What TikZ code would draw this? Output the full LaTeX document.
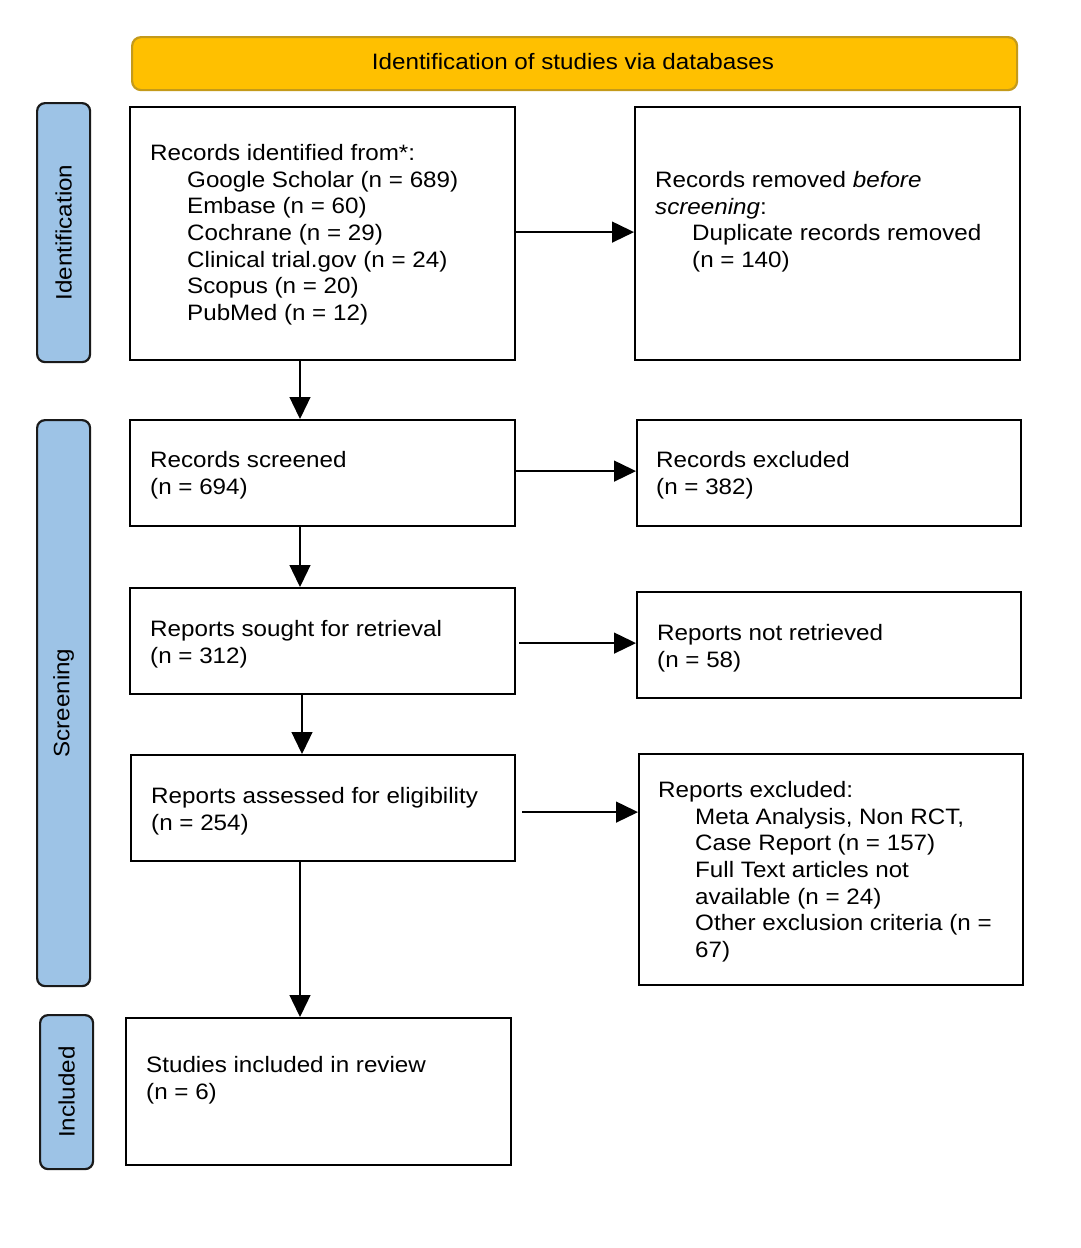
\documentclass[tikz,border=0pt]{standalone}
\usepackage{fontspec}
\setmainfont{Liberation Sans}[FakeStretch=1.085]
\usetikzlibrary{arrows.meta}
\definecolor{bannerfill}{HTML}{FFC000}
\definecolor{bannerline}{HTML}{C49A1A}
\definecolor{sidefill}{HTML}{9DC3E6}
\definecolor{sideline}{HTML}{1A1A1A}
\tikzset{
  box/.style={draw=black, line width=2.2pt, fill=white, anchor=north west, inner sep=0pt},
  side/.style={draw=sideline, line width=2.2pt, fill=sidefill, rounded corners=8pt, anchor=north west, inner sep=0pt},
  txt/.style={anchor=north west, inner sep=0pt, align=left, font=\fontsize{22.3}{26.7}\selectfont},
  plaintxt/.style={inner sep=0pt, font=\fontsize{22.3}{26.7}\selectfont},
  sidetxt/.style={rotate=90, inner sep=0pt, font=\fontsize{22.3}{26.7}\selectfont},
  arr/.style={line width=1.3pt, -{Triangle[length=22pt,width=21pt]}}
}
\begin{document}
\begin{tikzpicture}[x=1pt,y=-1pt]
\useasboundingbox[fill=white] (0,0) rectangle (1080,1248);
% banner
\node[draw=bannerline, line width=2.2pt, fill=bannerfill, rounded corners=9pt, anchor=north west, inner sep=0pt,
  minimum width=885pt, minimum height=53pt] (banner) at (131,36) {};
\node[plaintxt] (bannertxt) at (573,62) {Identification of studies via databases};
% side labels
\node[side, minimum width=53pt, minimum height=259pt] (sid) at (36,102) {};
\node[sidetxt] (sidt) at (sid.center) {Identification};
\node[side, minimum width=53pt, minimum height=566pt] (sscr) at (36,419) {};
\node[sidetxt] (sscrt) at (sscr.center) {Screening};
\node[side, minimum width=53pt, minimum height=154pt] (sinc) at (39,1014) {};
\node[sidetxt] (sinct) at (sinc.center) {Included};
% boxes
\node[box, minimum width=385pt, minimum height=253pt] (ident) at (129,106) {};
\node[box, minimum width=385pt, minimum height=253pt] (remv) at (634,106) {};
\node[box, minimum width=385pt, minimum height=106pt] (scr) at (129,419) {};
\node[box, minimum width=384pt, minimum height=106pt] (excl) at (636,419) {};
\node[box, minimum width=385pt, minimum height=106pt] (sought) at (129,587) {};
\node[box, minimum width=384pt, minimum height=106pt] (notret) at (636,591) {};
\node[box, minimum width=384pt, minimum height=106pt] (assess) at (130,754) {};
\node[box, minimum width=384pt, minimum height=231pt] (repex) at (638,753) {};
\node[box, minimum width=385pt, minimum height=147pt] (incl) at (125,1017) {};
% texts
\node[txt] (identt) at (150,141.5) {\strut Records identified from*:\\
\hspace*{37pt}Google Scholar (n = 689)\\
\hspace*{37pt}Embase (n = 60)\\
\hspace*{37pt}Cochrane (n = 29)\\
\hspace*{37pt}Clinical trial.gov (n = 24)\\
\hspace*{37pt}Scopus (n = 20)\\
\hspace*{37pt}PubMed (n = 12)};
\node[txt] (remvt) at (655,168.5) {\strut Records removed \textit{before}\\
\textit{screening}:\\
\hspace*{37pt}Duplicate records removed\\
\hspace*{37pt}(n = 140)};
\node[txt] (scrt) at (150,448.5) {\strut Records screened\\(n = 694)};
\node[txt] (exclt) at (656,448.5) {\strut Records excluded\\(n = 382)};
\node[txt] (soughtt) at (150,617.5) {\strut Reports sought for retrieval\\(n = 312)};
\node[txt] (notrett) at (657,621.5) {\strut Reports not retrieved\\(n = 58)};
\node[txt] (assesst) at (151,784.5) {\strut Reports assessed for eligibility\\(n = 254)};
\node[txt] (repext) at (658,778.5) {\strut Reports excluded:\\
\hspace*{37pt}Meta Analysis, Non RCT,\\
\hspace*{37pt}Case Report (n = 157)\\
\hspace*{37pt}Full Text articles not\\
\hspace*{37pt}available (n = 24)\\
\hspace*{37pt}Other exclusion criteria (n =\\
\hspace*{37pt}67)};
\node[txt] (inclt) at (146,1053.5) {\strut Studies included in review\\(n = 6)};
% arrows vertical
\draw[arr] ([xshift=171pt]ident.south west) -- ([xshift=171pt]scr.north west);
\draw[arr] ([xshift=171pt]scr.south west) -- ([xshift=171pt]sought.north west);
\draw[arr] ([xshift=173pt]sought.south west) -- ([xshift=172pt]assess.north west);
\draw[arr] ([xshift=170pt]assess.south west) -- ([xshift=175pt]incl.north west);
% arrows horizontal
\draw[arr] ([yshift=1.5pt]ident.east) -- ([yshift=1.5pt]ident.east -| remv.west);
\draw[arr] ([yshift=2pt]scr.east) -- ([yshift=2pt]scr.east -| excl.west);
\draw[arr] ([xshift=3pt,yshift=-2pt]sought.east) -- ([yshift=-2pt]sought.east -| notret.west);
\draw[arr] ([xshift=6pt,yshift=-4pt]assess.east) -- ([yshift=-4pt]assess.east -| repex.west);
\end{tikzpicture}
\end{document}
